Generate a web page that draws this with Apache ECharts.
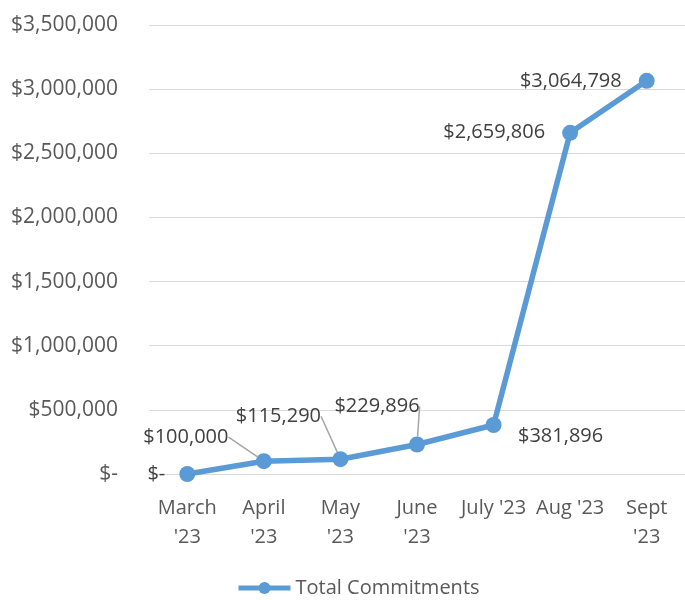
<!DOCTYPE html>
<html lang="en">
<head>
    <meta charset="UTF-8">
    <script type="text/javascript" src="https://cdn.jsdelivr.net/npm/echarts@6/dist/echarts.min.js"></script>
    <title>Total Commitments</title>
    <style type="text/css">
        body { margin: 0; background: #fff; }
        #chart { width: 685px; height: 600px; }
    </style>
</head>
<body>
<div id="chart"></div>
<script type="text/javascript">
    const months = ["March\n'23", "April\n'23", "May\n'23", "June\n'23", "July '23", "Aug '23", "Sept\n'23"];
    const commitments = [0, 100000, 115290, 229896, 381896, 2659806, 3064798];
    const yTicks = [0, 500000, 1000000, 1500000, 2000000, 2500000, 3000000, 3500000];

    const FONT = "'Open Sans', sans-serif";
    const TEXT = '#595959';

    function money(v) {
        if (v === 0) return '$-';
        return '$' + v.toLocaleString('en-US');
    }

    // label offsets (dx, dy) from the point; only April-June get a leader line
    const labelShift = [
        null,
        [-78, -24],
        [-62, -43],
        [-40, -38],
        [67, 11],
        null,
        null
    ];

    let chart = echarts.init(document.getElementById('chart'));

    let option = {
        animation: false,
        grid: {
            left: 149,
            right: 0,
            top: 25,
            bottom: 126
        },
        xAxis: {
            type: 'category',
            data: months,
            axisTick: { show: false },
            axisLine: { lineStyle: { color: '#d9d9d9' } },
            axisLabel: {
                color: TEXT,
                fontFamily: FONT,
                fontSize: 20,
                lineHeight: 29,
                margin: 20,
                interval: 0
            }
        },
        yAxis: {
            type: 'value',
            min: yTicks[0],
            max: yTicks[yTicks.length - 1],
            interval: 500000,
            axisLabel: {
                color: TEXT,
                fontFamily: FONT,
                fontSize: 21,
                margin: 31,
                formatter: money
            },
            splitLine: { lineStyle: { color: '#d9d9d9', width: 1 } }
        },
        legend: {
            top: 573,
            left: 231,
            itemWidth: 52,
            itemHeight: 15,
            itemGap: 4,
            lineStyle: { width: 5 },
            textStyle: { color: TEXT, fontFamily: FONT, fontSize: 20 },
            data: ['Total Commitments']
        },
        series: [
            {
                name: 'Total Commitments',
                type: 'line',
                data: commitments.map((v, i) => {
                    let item = { value: v };
                    if (i === 0 || i >= 5) {
                        item.label = { position: 'left', distance: i === 0 ? 14 : 17 };
                    } else {
                        item.label = { position: 'inside' };
                    }
                    item.labelLine = { show: i >= 1 && i <= 3 };
                    return item;
                }),
                symbol: 'circle',
                symbolSize: 16,
                lineStyle: { color: '#5b9bd5', width: 5.5 },
                itemStyle: { color: '#5b9bd5' },
                label: {
                    show: true,
                    color: '#404040',
                    fontFamily: FONT,
                    fontSize: 20,
                    formatter: p => money(p.value)
                },
                labelLine: {
                    show: false,
                    lineStyle: { color: '#a6a6a6', width: 1.5 }
                },
                labelLayout: function (params) {
                    let s = labelShift[params.dataIndex];
                    if (!s) return {};
                    return { dx: s[0], dy: s[1] };
                }
            }
        ]
    };
    chart.setOption(option);
</script>
</body>
</html>
